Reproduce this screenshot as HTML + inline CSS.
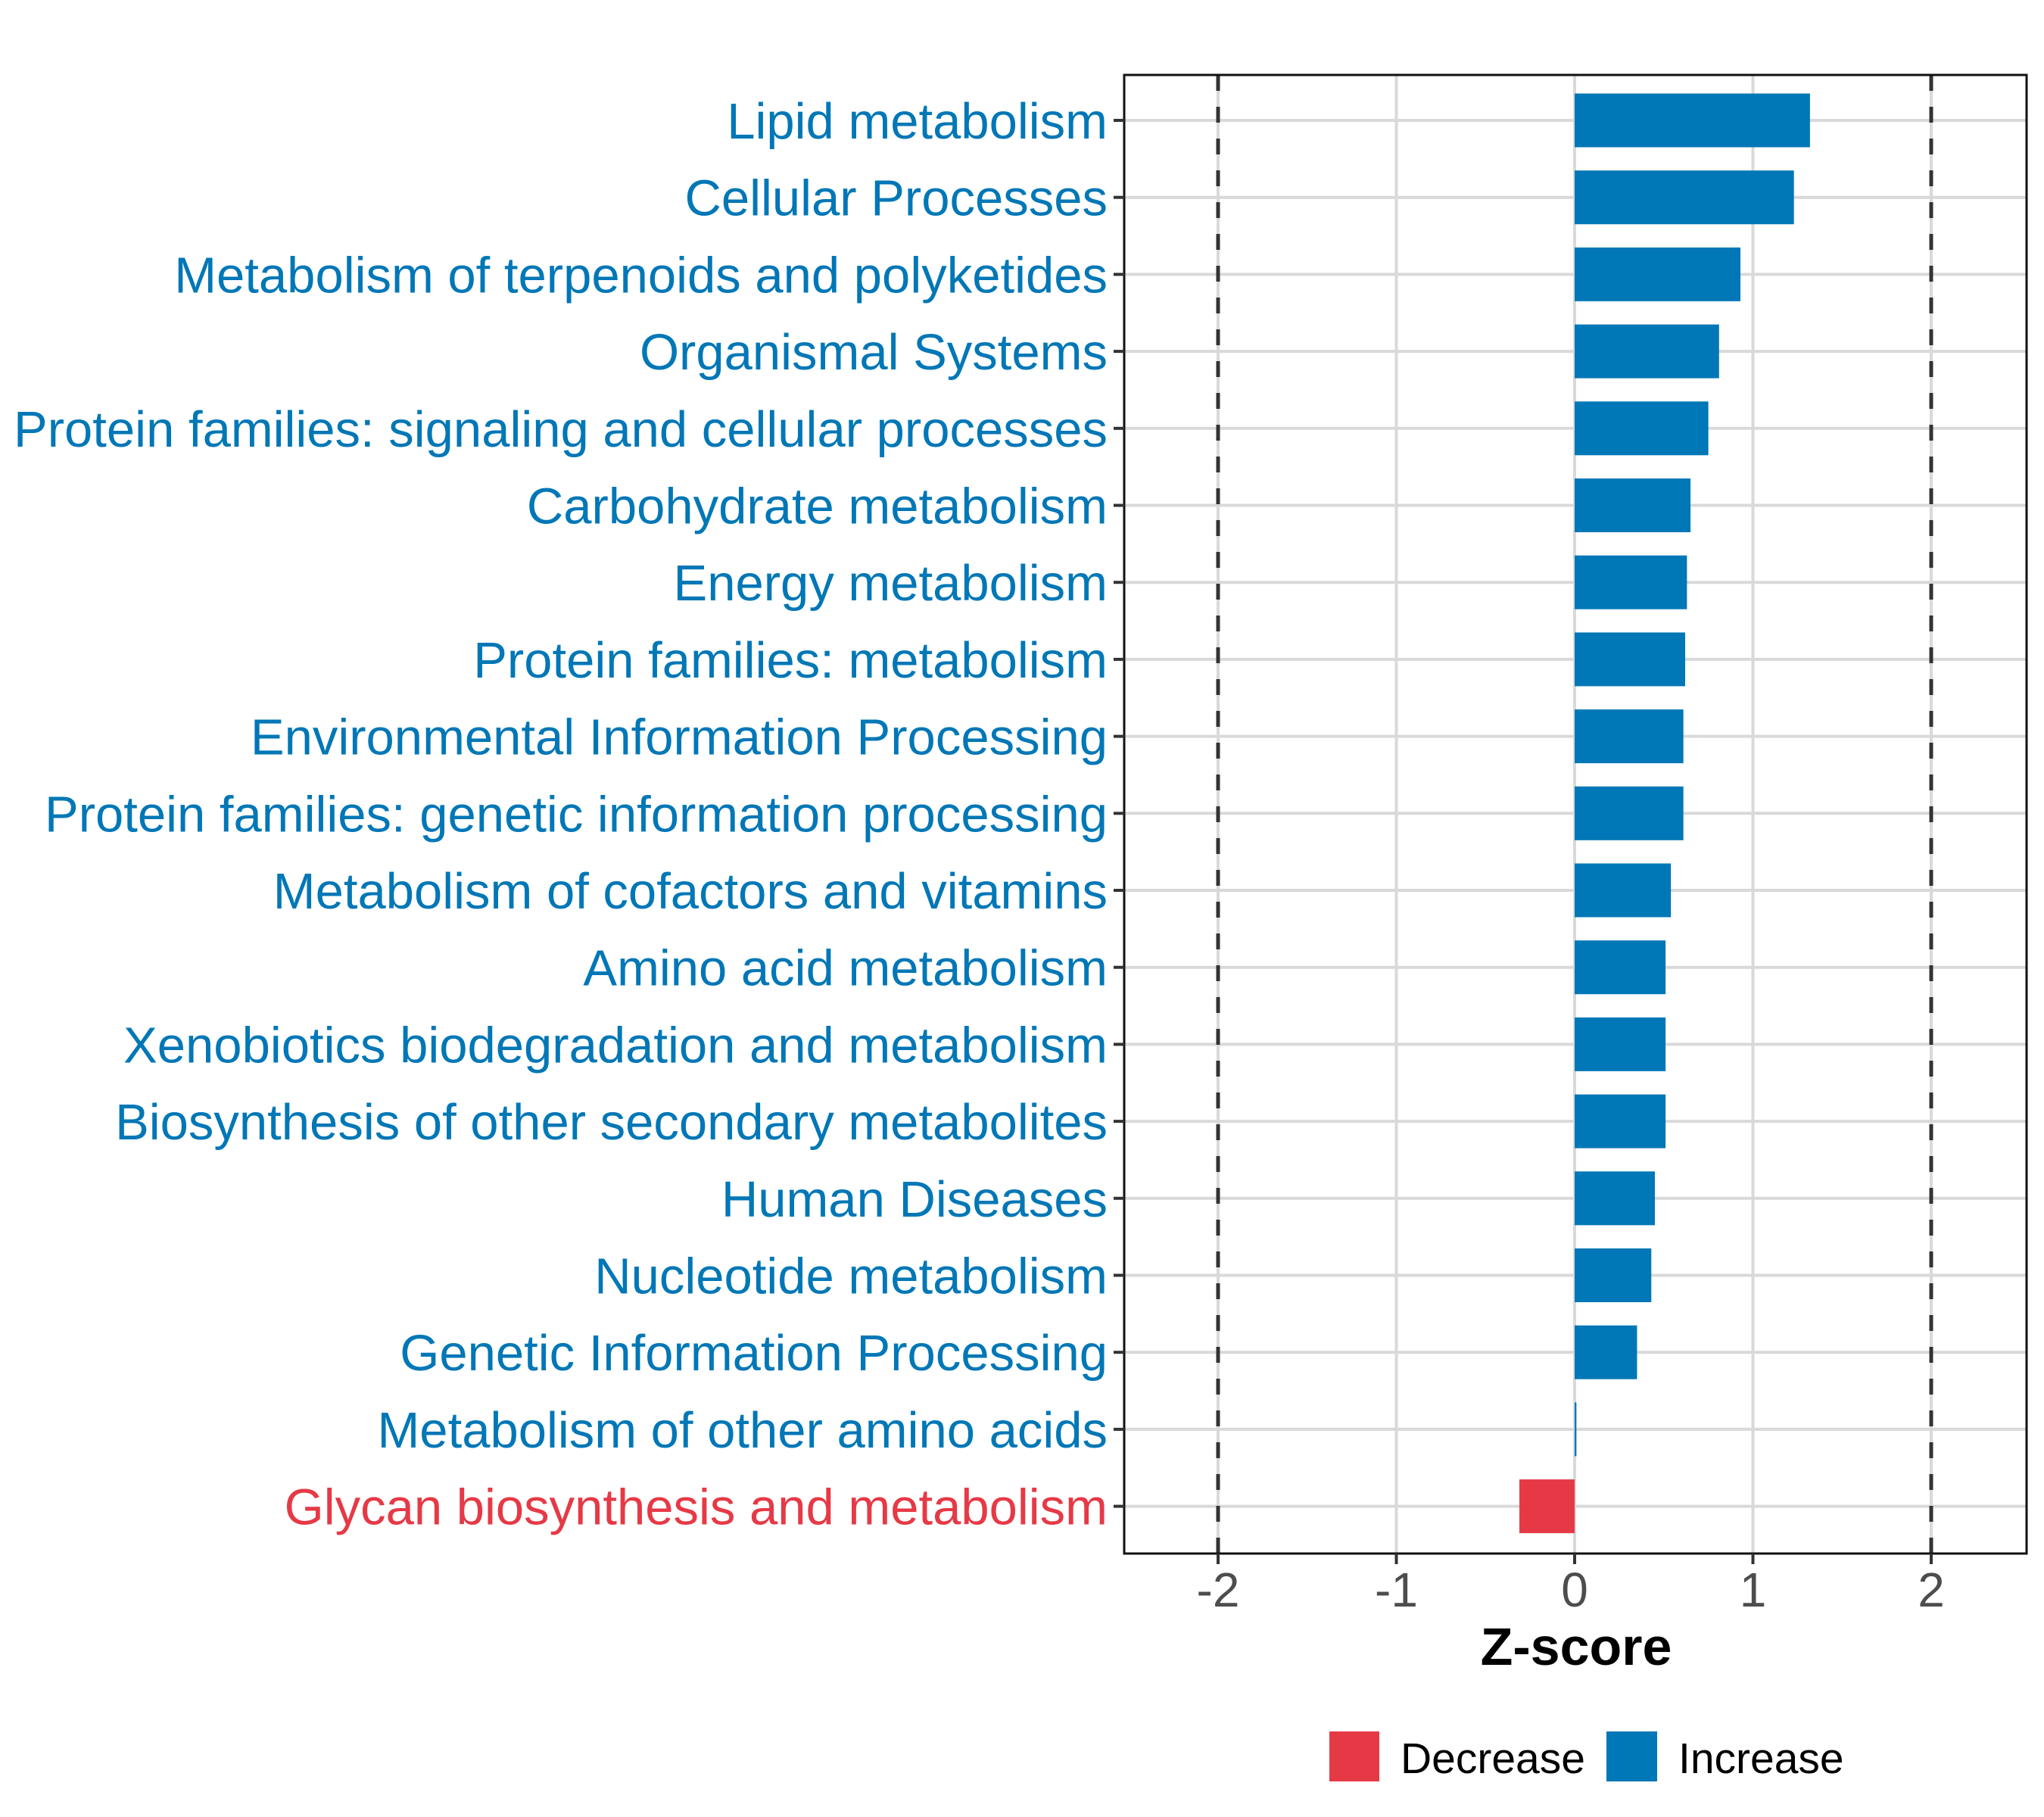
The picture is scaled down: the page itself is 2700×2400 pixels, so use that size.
<!DOCTYPE html>
<html><head><meta charset="utf-8"><style>html,body{margin:0;padding:0;background:#fff}svg{display:block}</style></head>
<body>
<svg id="chart" width="2700" height="2400" xmlns="http://www.w3.org/2000/svg" font-family="'Liberation Sans', Arial, sans-serif">
<g id="grid"></g>
<g id="refs"></g>
<g id="bars"></g>
<rect x="1485" y="99" width="1192" height="1953" fill="none" stroke="#111" stroke-width="3"/>
<g id="yaxis"></g>
<g id="xaxis"></g>
<text x="2082" y="2199" text-anchor="middle" font-size="70" font-weight="bold" fill="#000">Z-score</text>
<g>
  <rect x="1756" y="2287" width="66" height="66" fill="#E63946"/>
  <text x="1850" y="2342" font-size="57" fill="#000">Decrease</text>
  <rect x="2122" y="2287" width="67" height="66" fill="#0077B6"/>
  <text x="2217" y="2342" font-size="57" fill="#000">Increase</text>
</g>
</svg>
<script>
const categories = ["Lipid metabolism","Cellular Processes","Metabolism of terpenoids and polyketides","Organismal Systems","Protein families: signaling and cellular processes","Carbohydrate metabolism","Energy metabolism","Protein families: metabolism","Environmental Information Processing","Protein families: genetic information processing","Metabolism of cofactors and vitamins","Amino acid metabolism","Xenobiotics biodegradation and metabolism","Biosynthesis of other secondary metabolites","Human Diseases","Nucleotide metabolism","Genetic Information Processing","Metabolism of other amino acids","Glycan biosynthesis and metabolism"];
const zscores = [1.32,1.23,0.93,0.81,0.75,0.65,0.63,0.62,0.61,0.61,0.54,0.51,0.51,0.51,0.45,0.43,0.35,0.01,-0.31];
const xTicks = [-2,-1,0,1,2];
const xTickLabels = ["-2","-1","0","1","2"];
const refLines = [-2,2];

const NS="http://www.w3.org/2000/svg";
const L=1485,R=2677,T=99,B=2052;
const x0=2080, unit=235.5;
function xs(v){return x0+v*unit;}
const step=101.7, firstY=159;
function ys(i){return firstY+i*step;}
const BLUE="#0077B6", RED="#E63946";
function mk(tag,attrs,parent){const e=document.createElementNS(NS,tag);for(const k in attrs)e.setAttribute(k,attrs[k]);parent.appendChild(e);return e;}
const grid=document.getElementById('grid'),refs=document.getElementById('refs'),bars=document.getElementById('bars'),yax=document.getElementById('yaxis'),xax=document.getElementById('xaxis');
mk('rect',{x:L,y:T,width:R-L,height:B-T,fill:'#fff'},grid);
xTicks.forEach((t,i)=>{
  const g=mk('line',{x1:xs(t),x2:xs(t),y1:T,y2:B,stroke:'#d9d9d9','stroke-width':4},grid);
  
  
  const tk=mk('line',{x1:xs(t),x2:xs(t),y1:B,y2:B+14,stroke:'#333','stroke-width':4},xax);
  
  
  const lb=mk('text',{x:xs(t),y:2122,'text-anchor':'middle','font-size':64,fill:'#4d4d4d'},xax);
  lb.textContent=xTickLabels[i];
  
  
});
categories.forEach((c,i)=>{
  const y=ys(i);
  const g=mk('line',{x1:L,x2:R,y1:y,y2:y,stroke:'#d9d9d9','stroke-width':4},grid);
  
  
  const tk=mk('line',{x1:L-14,x2:L,y1:y,y2:y,stroke:'#333','stroke-width':4},yax);
  
  
  const v=zscores[i];
  const lb=mk('text',{x:1463,y:y+24,'text-anchor':'end','font-size':67,fill:v<0?RED:BLUE},yax);
  lb.textContent=c;
  
  
  const bx=Math.min(xs(0),xs(v)), bw=Math.max(Math.abs(xs(v)-xs(0)),2);
  const b=mk('rect',{x:bx,y:y-35.5,width:bw,height:71,fill:v<0?RED:BLUE},bars);
  
  
});
refLines.forEach(r=>{
  const l=mk('line',{x1:xs(r),x2:xs(r),y1:T,y2:B,stroke:'#333','stroke-width':5,'stroke-dasharray':'21,21'},refs);
  
  
});
</script>
</body></html>
